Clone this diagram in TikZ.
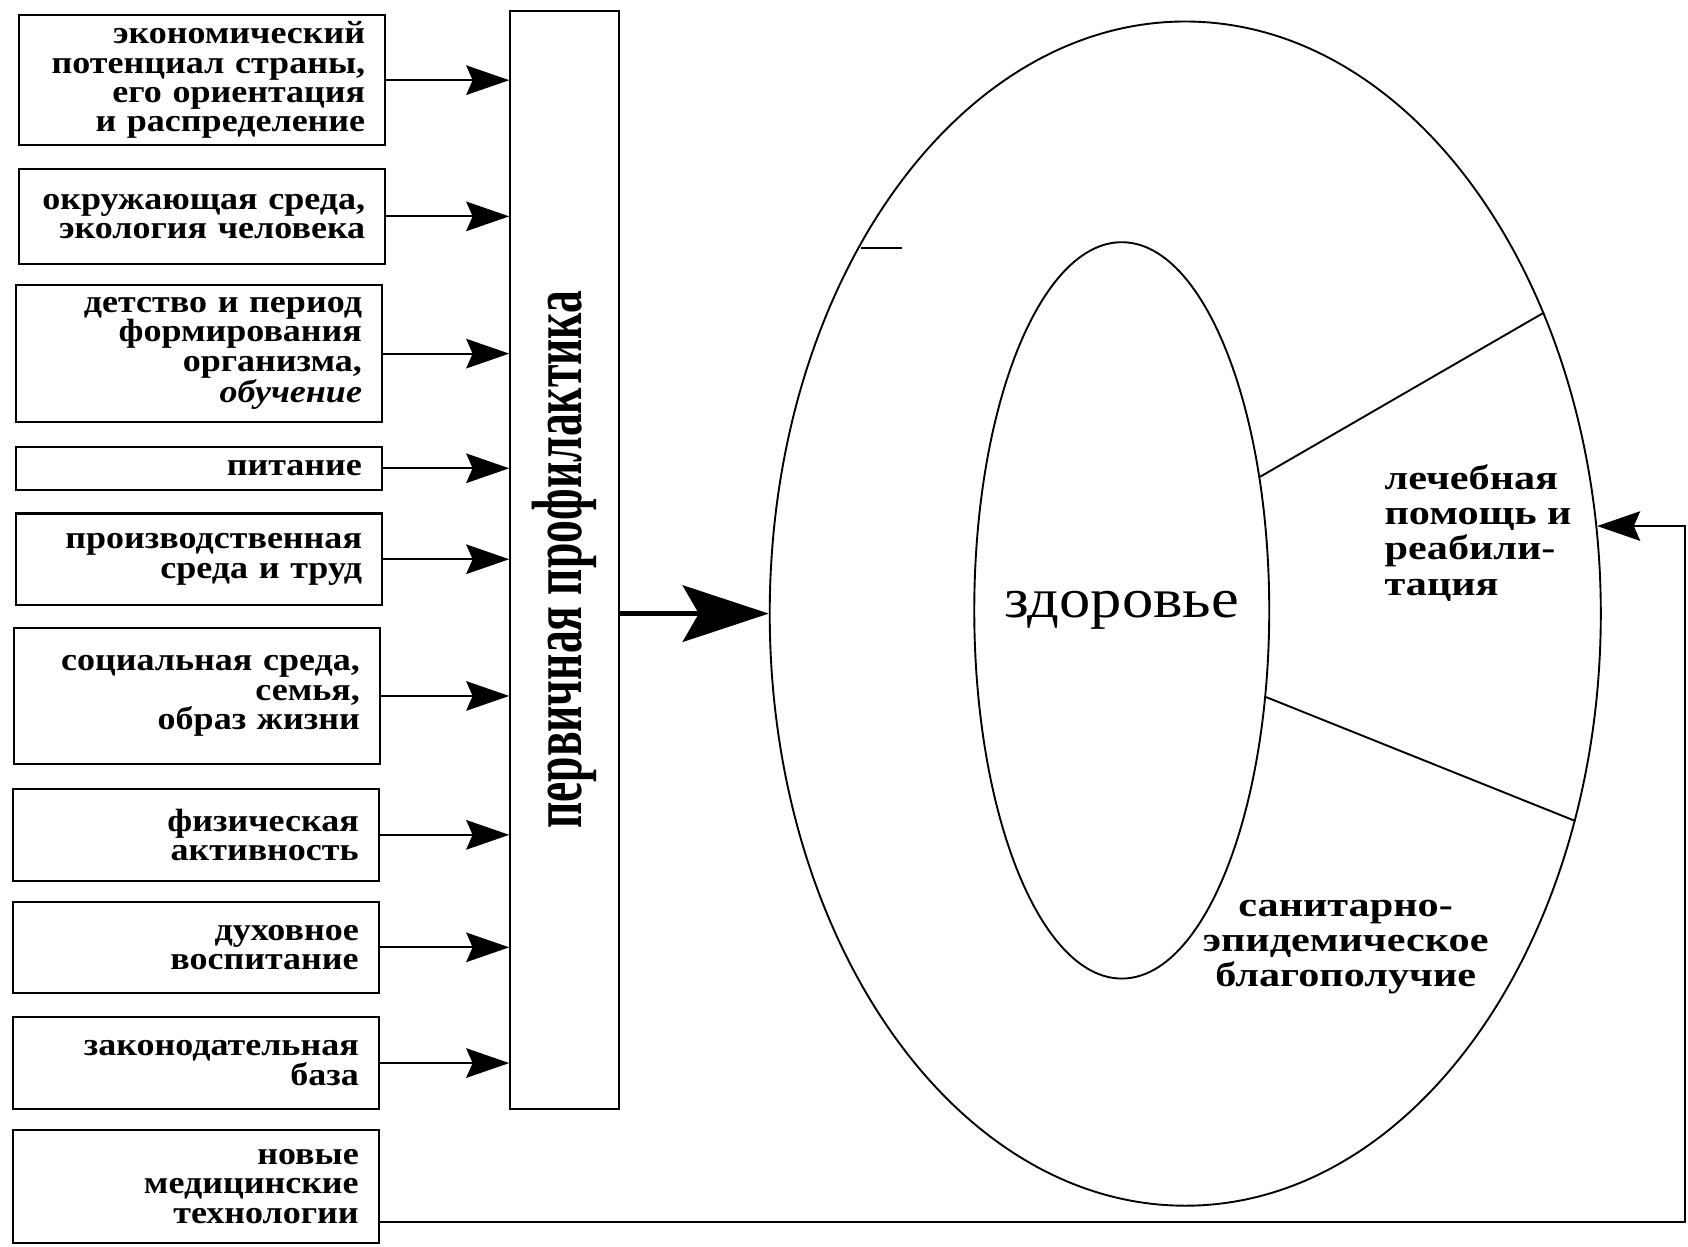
\documentclass[tikz,border=0pt]{standalone}
\usepackage{fontspec}
\setmainfont{Liberation Serif}[FakeStretch=1.12]
\newfontfamily\widefont{Liberation Serif}[FakeStretch=1.22]
\usepackage{graphicx}
\usepackage{tikz}
\usetikzlibrary{shapes.geometric,arrows.meta}

\begin{document}
\begin{tikzpicture}[
  factor/.style={draw, line width=1.1pt, text width=6.05cm, align=right, inner xsep=0.375cm, inner ysep=0.05cm, font=\bfseries\fontsize{17}{15.5}\selectfont},
  feed/.style={line width=1pt, -{Stealth[length=0.8cm,width=0.55cm,inset=0.12cm]}},
  sector/.style={font=\widefont\bfseries\fontsize{18.3}{18.6}\selectfont}
]
\useasboundingbox (0,0) rectangle (31.36,23.16);

\node[factor, minimum height=2.42cm] (econ) at (3.76,21.67) {экономический\\потенциал страны,\\его ориентация\\и распределение};
\node[factor, minimum height=1.76cm] (env) at (3.76,19.14) {окружающая среда,\\экология человека};
\node[factor, minimum height=2.54cm] (child) at (3.70,16.59) {детство и период\\формирования\\организма,\\\textit{обучение}};
\node[factor, minimum height=0.8cm] (food) at (3.70,14.46) {питание};
\node[factor, minimum height=1.7cm] (work) at (3.70,12.77) {производственная\\среда и труд};
\node[factor, minimum height=2.54cm] (social) at (3.66,10.23) {социальная среда,\\семья,\\образ жизни};
\node[factor, minimum height=1.7cm] (sport) at (3.64,7.65) {физическая\\активность};
\node[factor, minimum height=1.68cm] (spirit) at (3.64,5.56) {духовное\\воспитание};
\node[factor, minimum height=1.7cm] (law) at (3.64,3.41) {законодательная\\база};
\node[factor, minimum height=2.1cm] (newtech) at (3.64,1.12) {новые\\медицинские\\технологии};

\node[draw, line width=1.1pt, minimum width=2.02cm, minimum height=20.4cm, inner sep=0] (prof) at (10.49,12.76) {};
\node[rotate=90, inner sep=0] (proftext) at (prof.center) {\resizebox*{10cm}{1.2cm}{\bfseries первичная профилактика}};

\foreach \f in {econ,env,child,food,work,social,sport,spirit,law}
  \draw[feed] (\f.east) -- (\f.east -| prof.west);

\node[draw, ellipse, line width=1pt, minimum width=15.44cm, minimum height=22cm, inner sep=0] (outer) at (22.02,11.76) {};
\node[draw, ellipse, line width=1pt, minimum width=5.48cm, minimum height=13.68cm, inner sep=0] (health) at (20.84,11.82) {};
\node[font=\fontsize{29.5}{30}\selectfont] (healthtext) at (health.center) {здоровье};
\draw[line width=1pt] (health.44) -- (outer.40);
\draw[line width=1pt] (health.-31) -- (outer.-28);
\draw[line width=1pt] (16.0,18.56) -- ++(0.76,0);

\node[sector, align=left, anchor=west] (cure) at (25.6,13.26) {лечебная\\помощь и\\реабили-\\тация};
\node[sector, align=center] (sanit) at (25.0,5.56) {санитарно-\\эпидемическое\\благополучие};

\draw[line width=2.6pt, -{Stealth[length=1.6cm,width=1.05cm,inset=0.3cm]}] (prof.east |- outer.west) -- (outer.west);

\coordinate (edge) at (31.3,0.46);
\draw[feed] (newtech.east |- edge) -- (edge) |- (outer.12);
\end{tikzpicture}
\end{document}
